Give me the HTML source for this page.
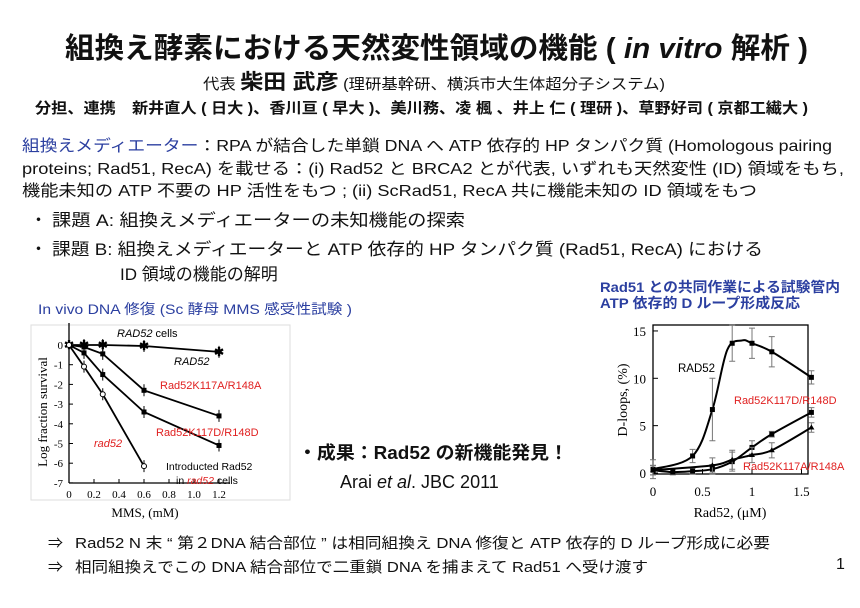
<!DOCTYPE html>
<html><head><meta charset="utf-8"><style>
html,body{margin:0;padding:0;background:#fff}
svg{display:block}
text{font-family:"Liberation Sans","Noto Sans CJK JP",sans-serif}
.s{font-family:"Liberation Serif","Noto Serif CJK SC",serif}
</style></head><body>
<svg id="g" width="860" height="608" viewBox="0 0 860 608" xmlns="http://www.w3.org/2000/svg">
<text x="65" y="58" font-size="29" font-weight="bold" textLength="743" lengthAdjust="spacingAndGlyphs" fill="#111">組換え酵素における天然変性領域の機能 ( <tspan font-style="italic">in vitro</tspan> 解析 )</text>
<text x="203" y="89" font-size="15" fill="#111" textLength="462" lengthAdjust="spacingAndGlyphs">代表 <tspan font-size="21" font-weight="bold">柴田 武彦</tspan> (理研基幹研、横浜市大生体超分子システム)</text>
<text x="35" y="113" font-size="15" font-weight="bold" fill="#111" textLength="773" lengthAdjust="spacingAndGlyphs">分担、連携　新井直人 ( 日大 )、香川亘 ( 早大 )、美川務、凌 楓 、井上 仁 ( 理研 )、草野好司 ( 京都工繊大 )</text>
<text x="22" y="151" font-size="16" fill="#111" textLength="810" lengthAdjust="spacingAndGlyphs"><tspan fill="#2b3fa0">組換えメディエーター</tspan>：RPA が結合した単鎖 DNA へ ATP 依存的 HP タンパク質 (Homologous pairing</text>
<text x="22" y="174" font-size="16" fill="#111" textLength="822" lengthAdjust="spacingAndGlyphs">proteins; Rad51, RecA) を載せる：(i) Rad52 と BRCA2 とが代表, いずれも天然変性 (ID) 領域をもち,</text>
<text x="22" y="196" font-size="16" fill="#111" textLength="735" lengthAdjust="spacingAndGlyphs">機能未知の ATP 不要の HP 活性をもつ ; (ii) ScRad51, RecA 共に機能未知の ID 領域をもつ</text>
<text x="30" y="226" font-size="17" fill="#111">・</text>
<text x="52" y="226" font-size="17" fill="#111" textLength="413" lengthAdjust="spacingAndGlyphs">課題 A:  組換えメディエーターの未知機能の探索</text>
<text x="30" y="255" font-size="17" fill="#111">・</text>
<text x="52" y="255" font-size="17" fill="#111" textLength="711" lengthAdjust="spacingAndGlyphs">課題 B:  組換えメディエーターと ATP 依存的 HP タンパク質 (Rad51, RecA) における</text>
<text x="120" y="280" font-size="17" fill="#111">ID 領域の機能の解明</text>
<text x="38" y="314" font-size="14" fill="#2b3fa0" textLength="314" lengthAdjust="spacingAndGlyphs">In vivo DNA 修復 (Sc 酵母 MMS 感受性試験 )</text>
<text x="600" y="292" font-size="14" font-weight="bold" fill="#2b3fa0" textLength="240" lengthAdjust="spacingAndGlyphs">Rad51 との共同作業による試験管内</text>
<text x="600" y="308" font-size="14" font-weight="bold" fill="#2b3fa0" textLength="200" lengthAdjust="spacingAndGlyphs">ATP 依存的 D ループ形成反応</text>
<rect x="31" y="325" width="259" height="175" fill="none" stroke="#ddd"/>
<text x="298" y="459" font-size="18" font-weight="bold" fill="#111" textLength="270" lengthAdjust="spacingAndGlyphs">・成果：Rad52 の新機能発見！</text>
<text x="340" y="488" font-size="18" fill="#111">Arai <tspan font-style="italic">et al</tspan>. JBC 2011</text>
<text x="48" y="548" font-size="15" fill="#111">⇒</text>
<text x="75" y="548" font-size="15" fill="#111" textLength="695" lengthAdjust="spacingAndGlyphs">Rad52 N 末 “ 第２DNA 結合部位 ” は相同組換え DNA 修復と ATP 依存的 D ループ形成に必要</text>
<text x="48" y="572" font-size="15" fill="#111">⇒</text>
<text x="75" y="572" font-size="15" fill="#111" textLength="573" lengthAdjust="spacingAndGlyphs">相同組換えでこの DNA 結合部位で二重鎖 DNA を捕まえて Rad51 へ受け渡す</text>
<text x="836" y="569" font-size="16" fill="#111">1</text>
<g id="L"></g><g id="R"></g>
</svg>
<script>
var NS="http://www.w3.org/2000/svg";
function el(p,t,a,txt){var e=document.createElementNS(NS,t);for(var k in a)e.setAttribute(k,a[k]);if(txt!=null)e.textContent=txt;p.appendChild(e);return e;}
var L=document.getElementById('L');
function lx(v){return 69+125*v}
function ly(v){return 345-19.7*v}
el(L,'line',{x1:69,y1:323,x2:69,y2:483,stroke:'#000','stroke-width':1.3});
el(L,'line',{x1:69,y1:483,x2:230,y2:483,stroke:'#000','stroke-width':1.3});
for(var i=0;i>=-7;i--){el(L,'line',{x1:69,y1:ly(i),x2:73,y2:ly(i),stroke:'#000'});el(L,'text',{x:63,y:ly(i)+4,'font-size':11,'text-anchor':'end','class':'s'},i);}
[0,0.2,0.4,0.6,0.8,1.0,1.2].forEach(function(v,j){el(L,'line',{x1:lx(v),y1:483,x2:lx(v),y2:479,stroke:'#000'});el(L,'text',{x:lx(v),y:498,'font-size':11,'text-anchor':'middle','class':'s'},j==0?'0':(j%5==0?v.toFixed(1):String(v)));});
el(L,'text',{x:145,y:517,'font-size':13,'text-anchor':'middle','class':'s'},'MMS, (mM)');
el(L,'text',{x:47,y:412,'font-size':13,'text-anchor':'middle','class':'s',transform:'rotate(-90 47 412)'},'Log fraction survival');
var ser=[
 {d:[[0,0],[0.12,0],[0.27,0],[0.6,-0.05],[1.2,-0.35]],m:'x'},
 {d:[[0,0],[0.12,-0.1],[0.27,-0.45],[0.6,-2.3],[1.2,-3.6]],m:'t'},
 {d:[[0,0],[0.12,-0.4],[0.27,-1.5],[0.6,-3.4],[1.2,-5.1]],m:'s'},
 {d:[[0,0],[0.12,-1.1],[0.27,-2.5],[0.6,-6.15]],m:'o'}];
ser.forEach(function(s){
 el(L,'polyline',{points:s.d.map(function(p){return lx(p[0])+','+ly(p[1])}).join(' '),fill:'none',stroke:'#000','stroke-width':1.8});
 s.d.forEach(function(p){var x=lx(p[0]),y=ly(p[1]);
  if(p[0]>0)el(L,'line',{x1:x,y1:y-6,x2:x,y2:y+6,stroke:'#000'});
  if(s.m=='o')el(L,'circle',{cx:x,cy:y,r:2.5,fill:'#fff',stroke:'#000'});
  else if(s.m=='x')el(L,'text',{x:x,y:y+4,'font-size':12,'text-anchor':'middle','font-weight':'bold'},'✱');
  else el(L,'rect',{x:x-2.5,y:y-2.5,width:5,height:5,fill:'#000'});});
});
el(L,'text',{x:117,y:337,'font-size':11},'').innerHTML='<tspan font-style="italic">RAD52</tspan> cells';
el(L,'text',{x:174,y:365,'font-size':11,'font-style':'italic'},'RAD52');
el(L,'text',{x:160,y:389,'font-size':11,fill:'#e02020'},'Rad52K117A/R148A');
el(L,'text',{x:156,y:436,'font-size':11,fill:'#e02020'},'Rad52K117D/R148D');
el(L,'text',{x:94,y:447,'font-size':11,fill:'#e02020','font-style':'italic'},'rad52');
el(L,'text',{x:166,y:470,'font-size':10.5},'Introducted Rad52');
el(L,'text',{x:176,y:484,'font-size':10.5},'').innerHTML='in <tspan fill="#e02020" font-style="italic">rad52</tspan> cells';
var R=document.getElementById('R');
function rx(v){return 653+99*v} function ry(v){return 473-9.47*v}
el(R,'rect',{x:653,y:325,width:155,height:149,fill:'none',stroke:'#000','stroke-width':1.3});
[0,5,10,15].forEach(function(v){el(R,'line',{x1:653,y1:ry(v),x2:658,y2:ry(v),stroke:'#000'});el(R,'text',{x:646,y:ry(v)+5,'font-size':13,'text-anchor':'end','class':'s'},v);});
[[0,'0'],[0.5,'0.5'],[1,'1'],[1.5,'1.5']].forEach(function(t){el(R,'line',{x1:rx(t[0]),y1:474,x2:rx(t[0]),y2:469,stroke:'#000'});el(R,'text',{x:rx(t[0]),y:496,'font-size':13,'text-anchor':'middle','class':'s'},t[1]);});
el(R,'text',{x:730,y:517,'font-size':14,'text-anchor':'middle','class':'s'},'Rad52, (μM)');
el(R,'text',{x:627,y:400,'font-size':14,'text-anchor':'middle','class':'s',transform:'rotate(-90 627 400)'},'D-loops, (%)');
function curve(pts){var P=pts.map(function(p){return [rx(p[0]),ry(p[1])]});var d='M'+P[0][0]+','+P[0][1];
 for(var i=0;i<P.length-1;i++){var p0=P[i-1]||P[i],p1=P[i],p2=P[i+1],p3=P[i+2]||p2;
  d+=' C'+(p1[0]+(p2[0]-p0[0])/6)+','+(p1[1]+(p2[1]-p0[1])/6)+' '+(p2[0]-(p3[0]-p1[0])/6)+','+(p2[1]-(p3[1]-p1[1])/6)+' '+p2[0]+','+p2[1];}
 return d;}
var rs=[
 {d:[[0,0.4],[0.4,1.8],[0.6,6.7],[0.75,13],[0.9,14],[1.0,13.7],[1.2,12.8],[1.6,10.1]],e:[1,0.7,3.3,0,0,1.6,1.6,0.7],m:'s',skip:[3,4]},
 {d:[[0,0.3],[0.2,0.1],[0.4,0.2],[0.6,0.4],[0.8,1.2],[1.0,2.7],[1.2,4.1],[1.6,6.4]],e:[0.5,0.3,0.3,0.5,1,0.7,0.3,0.5],m:'s'},
 {d:[[0,0.3],[0.6,0.8],[0.8,1.4],[1.0,1.9],[1.2,2.4],[1.6,4.8]],e:[0.5,0.8,1,0.8,0.8,0.5],m:'t'}];
rs.forEach(function(s){
 el(R,'path',{d:curve(s.d),fill:'none',stroke:'#000','stroke-width':2});
 s.d.forEach(function(p,i){if(s.skip&&s.skip.indexOf(i)>=0)return;var x=rx(p[0]),y=ry(p[1]),e=(s.e[i]||0.5)*9.47;
  el(R,'path',{d:'M'+x+','+(y-e)+'V'+(y+e)+'M'+(x-3)+','+(y-e)+'h6M'+(x-3)+','+(y+e)+'h6',stroke:'#777',fill:'none'});
  if(s.m=='t')el(R,'path',{d:'M'+x+','+(y-3)+'l3,5h-6z',fill:'#000'});else el(R,'rect',{x:x-2.5,y:y-2.5,width:5,height:5,fill:'#000'});});
});
// extra point at 0.8 for RAD52
(function(){var x=rx(0.8),y=ry(13.7),e=1.9*9.47;el(R,'path',{d:'M'+x+','+(y-e)+'V'+(y+e)+'M'+(x-3)+','+(y-e)+'h6M'+(x-3)+','+(y+e)+'h6',stroke:'#777',fill:'none'});el(R,'rect',{x:x-2.5,y:y-2.5,width:5,height:5,fill:'#000'});})();
el(R,'text',{x:678,y:372,'font-size':11.5},'RAD52');
el(R,'text',{x:734,y:404,'font-size':11,fill:'#e02020'},'Rad52K117D/R148D');
el(R,'text',{x:743,y:470,'font-size':11,fill:'#e02020'},'Rad52K117A/R148A');
</script>
</body></html>
